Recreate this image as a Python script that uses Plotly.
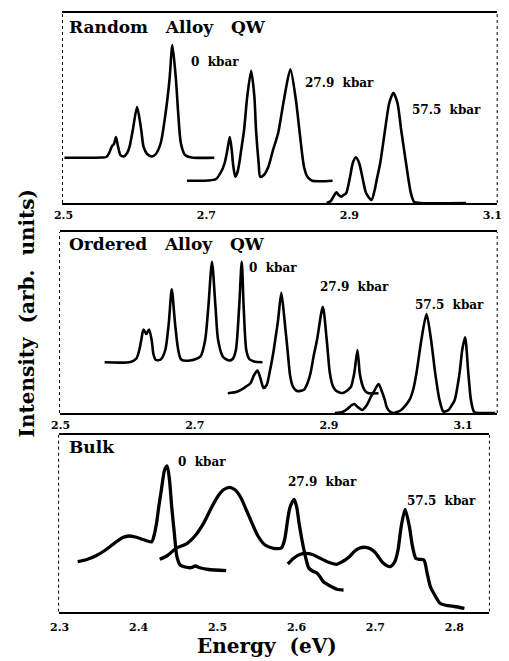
import plotly.graph_objects as go

# ---------------- data (energy in eV, intensity in arb. units) ----------------
# Random alloy QW
rand_0_E = [2.5014, 2.5530, 2.5599, 2.5639, 2.5680, 2.5707, 2.5735, 2.5762, 2.5796, 2.5844,
            2.5891, 2.5925, 2.5970, 2.6030, 2.6088, 2.6120, 2.6170, 2.6238, 2.6293, 2.6361,
            2.6429, 2.6483, 2.6524, 2.6574, 2.6605, 2.6642, 2.6701, 2.6796, 2.7110]
rand_0_I = [45.3, 45.5, 46, 50, 57, 59, 66, 57, 48, 46.5,
            50, 56.3, 73, 96, 73, 56.3, 49, 46.5, 49, 60,
            90, 123, 158, 123, 90, 60, 48, 45.5, 45.3]

rand_27_E = [2.6728, 2.7027, 2.7136, 2.7204, 2.7254, 2.7293, 2.7327, 2.7354, 2.7374, 2.7404,
             2.7435, 2.7459, 2.7497, 2.7527, 2.7571, 2.7626, 2.7671, 2.7694, 2.7731, 2.7752,
             2.7803, 2.7867, 2.7932, 2.8003, 2.8084, 2.8174, 2.8252, 2.8306, 2.8365, 2.8415,
             2.8479, 2.8765]
rand_27_I = [22.3, 22.5, 24, 31, 39.7, 53, 66, 53, 38, 26.3,
             31, 39.7, 58, 73, 106.3, 132.3, 106.3, 73, 39.7, 26.3,
             28, 36.3, 53, 69.7, 103, 133.7, 103, 69.7, 36.3, 26,
             22.3, 22.3]

rand_57_E = [2.8683, 2.8741, 2.8782, 2.8819, 2.8850, 2.8887, 2.8918, 2.8955, 2.9010, 2.9048,
             2.9091, 2.9136, 2.9181, 2.9235, 2.9309, 2.9354, 2.9388, 2.9431, 2.9499, 2.9558,
             2.9616, 2.9673, 2.9725, 2.9793, 2.9861, 2.9907, 2.9980, 3.0633]
rand_57_I = [0, 2, 7, 10.7, 8, 6.3, 8, 9.7, 26.3, 40,
             45.7, 40, 26.3, 9.7, 3, 13, 25, 39.7, 73, 100,
             110.3, 100, 73, 39.7, 9.7, 1, 0, 0]

# Ordered alloy QW
ord_0_E = [2.5657, 2.6043, 2.6130, 2.6174, 2.6203, 2.6236, 2.6278, 2.6319, 2.6358, 2.6384,
           2.6420, 2.6493, 2.6561, 2.6613, 2.6657, 2.6706, 2.6754, 2.6797, 2.6928, 2.7083,
           2.7155, 2.7203, 2.7257, 2.7309, 2.7348, 2.7420, 2.7507, 2.7565, 2.7613, 2.7662,
           2.7700, 2.7729, 2.7768, 2.7812, 2.7884, 2.8010]
ord_0_I = [50.7, 51, 54.5, 63, 73, 83.5, 79, 83.5, 73, 59,
           53, 53.5, 63, 89.7, 123.7, 89.7, 63, 53.5, 52.5, 56.3,
           73, 106.3, 151.3, 106.3, 73, 56.3, 52.5, 54, 63, 106.3,
           151.3, 106.3, 63, 54, 51.5, 50.7]

ord_27_E = [2.7493, 2.7638, 2.7754, 2.7830, 2.7884, 2.7935, 2.7978, 2.8025, 2.8072, 2.8123,
            2.8170, 2.8210, 2.8242, 2.8290, 2.8338, 2.8387, 2.8420, 2.8459, 2.8522, 2.8628,
            2.8681, 2.8725, 2.8775, 2.8822, 2.8909, 2.8967, 2.9014, 2.9058, 2.9109, 2.9207,
            2.9283, 2.9329, 2.9377, 2.9425, 2.9459, 2.9493, 2.9529, 2.9580, 2.9739]
ord_27_I = [19.7, 21.5, 26, 29.7, 38, 42.5, 35, 25, 28, 43,
            60, 78, 93, 120.3, 93, 60, 38, 27, 22, 23.3,
            30, 39.7, 58, 73, 106.3, 73, 39.7, 27, 22, 20,
            23, 26.3, 39.7, 63, 39.7, 29, 23, 20, 19.7]

ord_57_E = [2.9087, 2.9203, 2.9275, 2.9333, 2.9377, 2.9428, 2.9497, 2.9565, 2.9623, 2.9667,
            2.9739, 2.9797, 2.9833, 2.9859, 2.9899, 2.9957, 3.0077, 3.0199, 3.0254, 3.0304,
            3.0377, 3.0454, 3.0522, 3.0584, 3.0648, 3.0706, 3.0783, 3.0833, 3.0874, 3.0946,
            3.0986, 3.1029, 3.1077, 3.1116, 3.1164, 3.1261, 3.1478]
ord_57_I = [0, 1, 4, 7.5, 9, 6, 3, 8, 16, 21,
            29, 20, 13, 6.3, 2, 0, 3, 13, 23, 39.7,
            73, 99, 73, 39.7, 13, 1.3, 3, 8, 13, 39.7,
            63, 75.7, 39.7, 13, 1, 0, 0]

# Bulk
bulk_0_E = [2.3230, 2.3345, 2.3468, 2.3591, 2.3714, 2.3800, 2.3878, 2.3961, 2.4059, 2.4166,
            2.4195, 2.4228, 2.4256, 2.4289, 2.4330, 2.4363, 2.4392, 2.4420, 2.4453, 2.4486,
            2.4527, 2.4589, 2.4659, 2.4720, 2.4786, 2.4884, 2.5110]
bulk_0_I = [50, 52.2, 56.2, 62.2, 69.7, 74.2, 75.7, 74.7, 72.2, 70,
            75.7, 88.4, 104.7, 121.7, 141.7, 145.7, 131.7, 105, 78.7, 55,
            46.7, 44.7, 44, 45.7, 43.7, 42.2, 41]

bulk_27_E = [2.4268, 2.4367, 2.4474, 2.4617, 2.4724, 2.4823, 2.4921, 2.5007, 2.5081, 2.5151,
             2.5217, 2.5291, 2.5365, 2.5438, 2.5512, 2.5602, 2.5709, 2.5808, 2.5849, 2.5888,
             2.5919, 2.5972, 2.6005, 2.6033, 2.6095, 2.6156, 2.6202, 2.6260, 2.6300, 2.6341,
             2.6445, 2.6522, 2.6596]
bulk_27_I = [52.4, 56.2, 63.4, 68.4, 76.7, 88.4, 103.7, 115.7, 122.2, 124.4,
             122.2, 114.7, 101.7, 88.4, 75.7, 66.7, 63.4, 63.7, 71.7, 91.7,
             104.7, 112.4, 103.7, 88.4, 61.7, 43.7, 40.7, 38.7, 34.7, 30,
             25, 22.2, 21.7]

bulk_57_E = [2.5890, 2.5968, 2.6042, 2.6116, 2.6202, 2.6300, 2.6399, 2.6506, 2.6584, 2.6670,
             2.6732, 2.6793, 2.6876, 2.6941, 2.6999, 2.7052, 2.7101, 2.7184, 2.7245, 2.7286,
             2.7326, 2.7376, 2.7430, 2.7470, 2.7511, 2.7553, 2.7614, 2.7655, 2.7696, 2.7738,
             2.7819, 2.7922, 2.8000, 2.8127]
bulk_57_I = [47.7, 53.7, 57.2, 58.4, 57.2, 53.4, 49.7, 47.4, 50.2, 55,
             60.2, 63.4, 64.4, 62.7, 59, 53.2, 48.4, 45, 50, 61.7,
             85, 102.4, 85, 65, 53.4, 52.4, 51.7, 38.4, 25, 18.4,
             8.4, 6, 5.2, 3.4]

panel_titles = ["Random\u00a0\u00a0 Alloy\u00a0\u00a0 QW", "Ordered\u00a0\u00a0 Alloy\u00a0\u00a0 QW", "Bulk"]
pressure_labels = ["0\u00a0\u00a0kbar", "27.9\u00a0\u00a0kbar", "57.5\u00a0\u00a0kbar"]
ticks_qw = [2.5, 2.7, 2.9, 3.1]
ticks_bulk = [2.3, 2.4, 2.5, 2.6, 2.7, 2.8]

# label anchor positions (energy, intensity) per panel
label_pos = [
    [(2.6755, 141), (2.8347, 120), (2.9844, 93)],
    [(2.7783, 145), (2.8841, 126), (3.0246, 108)],
    [(2.4478, 150), (2.5869, 130), (2.7372, 111)],
]

# ---------------- layout geometry ----------------
W, H = 509, 661
def fx(p): return p / W
def fy(p): return 1 - p / H

panels = [
    dict(xd=(55, 502), E0=2.5, p0=56, s=735, yd=(13, 203), ticks=ticks_qw, lw=2.6,
         series=[(rand_0_E, rand_0_I), (rand_27_E, rand_27_I), (rand_57_E, rand_57_I)]),
    dict(xd=(52, 502), E0=2.5, p0=53, s=690, yd=(232, 413), ticks=ticks_qw, lw=2.6,
         series=[(ord_0_E, ord_0_I), (ord_27_E, ord_27_I), (ord_57_E, ord_57_I)]),
    dict(xd=(51, 494), E0=2.3, p0=52, s=812, yd=(435, 611.7), ticks=ticks_bulk, lw=3.3,
         series=[(bulk_0_E, bulk_0_I), (bulk_27_E, bulk_27_I), (bulk_57_E, bulk_57_I)]),
]

fig = go.Figure()
FONT = "DejaVu Serif"
annotations = []
shapes = []
for k, p in enumerate(panels):
    ax = "" if k == 0 else str(k + 1)
    for (E, I) in p["series"]:
        fig.add_trace(go.Scatter(x=E, y=I, mode="lines", xaxis="x" + ax, yaxis="y" + ax,
                                 line=dict(color="black", width=p["lw"], shape="spline", smoothing=0.7),
                                 showlegend=False, hoverinfo="skip"))
    xr = [p["E0"] + (p["xd"][0] - p["p0"]) / p["s"], p["E0"] + (p["xd"][1] - p["p0"]) / p["s"]]
    yh = p["yd"][1] - p["yd"][0]
    fig.layout["xaxis" + ax] = dict(
        domain=[fx(p["xd"][0]), fx(p["xd"][1])], range=xr, anchor="y" + ax,
        tickvals=p["ticks"], ticktext=[f"{t:.1f}" for t in p["ticks"]],
        showgrid=False, zeroline=False, showline=True, mirror=True,
        linecolor="black", linewidth=1.6, ticks="",
        ticklabelstandoff=(4 if k == 2 else 1),
        tickfont=dict(family=FONT, size=11, color="black", weight="bold"))
    fig.layout["yaxis" + ax] = dict(
        domain=[fy(p["yd"][1]), fy(p["yd"][0])], range=[0, yh], anchor="x" + ax,
        showgrid=False, zeroline=False, showline=False, showticklabels=False, ticks="")
    for xs in (0, 1):
        shapes.append(dict(type="line", xref="x" + ax + " domain", yref="y" + ax + " domain",
                           x0=xs, x1=xs, y0=0, y1=1,
                           line=dict(color="black", width=1, dash="dot")))
    annotations.append(dict(text=panel_titles[k], xref="paper", yref="paper",
                            x=fx(60), y=fy([27, 244, 447][k]), xanchor="left", yanchor="middle",
                            showarrow=False,
                            font=dict(family=FONT, size=17, color="black", weight="bold")))
    for j, (e, i) in enumerate(label_pos[k]):
        annotations.append(dict(text=pressure_labels[j], xref="x" + ax, yref="y" + ax,
                                x=e, y=i, xanchor="left", yanchor="middle", showarrow=False,
                                font=dict(family=FONT, size=12, color="black", weight="bold")))

annotations.append(dict(text="Energy\u00a0 (eV)", xref="paper", yref="paper",
                        x=fx(265), y=fy(646), xanchor="center", yanchor="middle", showarrow=False,
                        font=dict(family=FONT, size=20, color="black", weight="bold")))
annotations.append(dict(text="Intensity\u00a0 (arb.\u00a0 units)", xref="paper", yref="paper",
                        x=fx(19), y=fy(313), xanchor="center", yanchor="middle", showarrow=False,
                        textangle=-90,
                        font=dict(family=FONT, size=20, color="black", weight="bold")))

fig.update_layout(width=W, height=H, margin=dict(l=0, r=0, t=0, b=0),
                  paper_bgcolor="white", plot_bgcolor="white",
                  annotations=annotations, shapes=shapes)
fig.write_html("out.html")
